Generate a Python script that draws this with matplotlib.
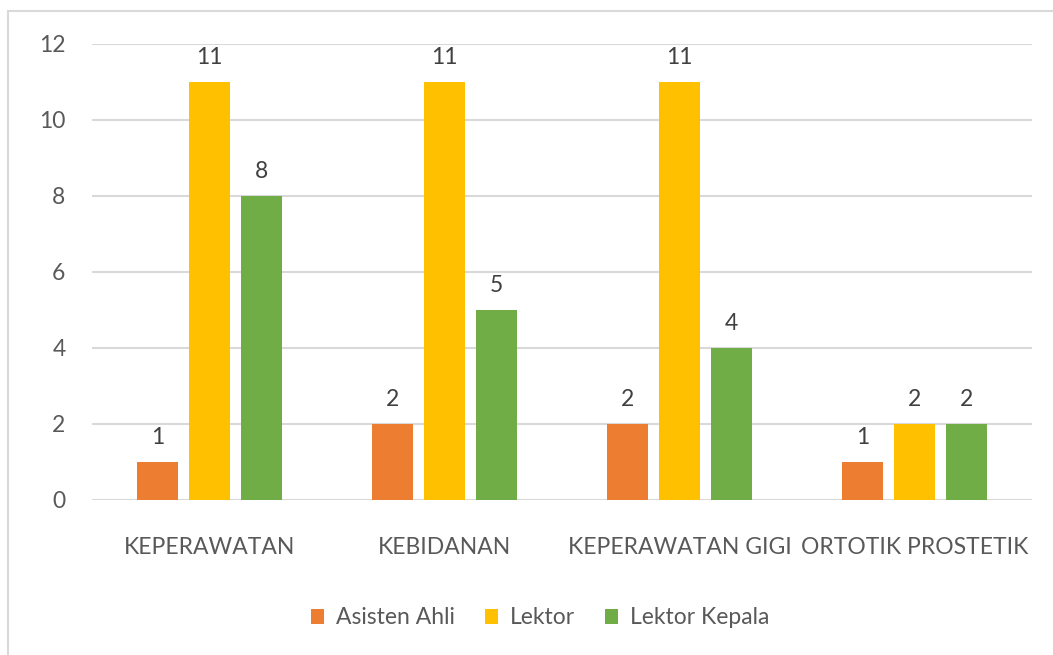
import numpy as np
import matplotlib.pyplot as plt
from matplotlib.patches import Rectangle

plt.rcParams['font.family'] = ['Lato', 'DejaVu Sans']

categories = ['KEPERAWATAN', 'KEBIDANAN', 'KEPERAWATAN GIGI', 'ORTOTIK PROSTETIK']
series_names = ['Asisten Ahli', 'Lektor', 'Lektor Kepala']
asisten_ahli = [1, 2, 2, 1]
lektor = [11, 11, 11, 2]
lektor_kepala = [8, 5, 4, 2]
yticks = [0, 2, 4, 6, 8, 10, 12]

colors = ['#ED7D31', '#FFC000', '#70AD47']
txt = '#595959'
fs = 16.5

fig = plt.figure(figsize=(10.53, 6.55), dpi=100)
W, H = 1053, 655
# outer chart border (only top/left visible in the crop)
fig.patches.append(Rectangle((8 / W, -0.1), 1.2, (H - 11) / H + 0.1,
                             transform=fig.transFigure, fill=False,
                             edgecolor='#D9D9D9', linewidth=1.5))

ax = fig.add_axes([92 / W, 1 - 500 / H, 940 / W, 456 / H])
x = np.arange(len(categories))
step = 0.221
width = 0.175
for i, (vals, name) in enumerate(zip([asisten_ahli, lektor, lektor_kepala], series_names)):
    pos = x + (i - 1) * step
    ax.bar(pos, vals, width, color=colors[i], label=name, zorder=3)
    for p, v in zip(pos, vals):
        ax.annotate(str(v), (p, v), xytext=(0, 10), textcoords='offset points',
                    ha='center', va='bottom', fontsize=fs, color='#404040')

ax.set_xlim(-0.5, len(categories) - 0.5)
ax.set_ylim(0, 12)
ax.set_yticks(yticks)
ax.set_xticks(x)
ax.set_xticklabels(categories)
ax.grid(axis='y', color='#D9D9D9', linewidth=1.5, zorder=0)
for s in ax.spines.values():
    s.set_visible(False)
ax.tick_params(length=0, labelsize=fs, labelcolor=txt)
ax.tick_params(axis='x', pad=27)
ax.tick_params(axis='y', pad=19)

fig.legend(loc='center', bbox_to_anchor=(540 / W, 1 - 618 / H), ncol=3,
           frameon=False, fontsize=fs, labelcolor=txt, handlelength=0.6,
           handleheight=0.6, columnspacing=1.3, handletextpad=0.5)

fig.savefig('out.png', dpi=100, facecolor='white')
